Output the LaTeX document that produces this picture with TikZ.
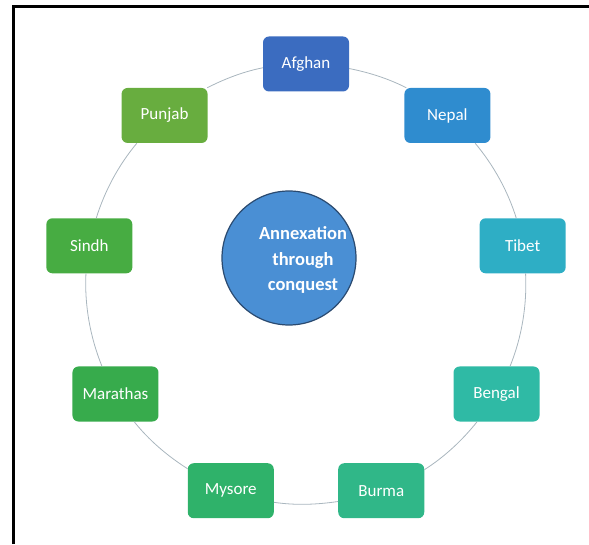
\documentclass[tikz,border=0pt]{standalone}
\usepackage{fontspec}
\setmainfont{Carlito}
\usetikzlibrary{calc}
\definecolor{cAfghan}{HTML}{3B6CC0}
\definecolor{cNepal}{HTML}{2F8CCF}
\definecolor{cTibet}{HTML}{2EAEC5}
\definecolor{cBengal}{HTML}{2FBAA5}
\definecolor{cBurma}{HTML}{30B788}
\definecolor{cMysore}{HTML}{2FB26A}
\definecolor{cMarathas}{HTML}{37AB4C}
\definecolor{cSindh}{HTML}{47AC42}
\definecolor{cPunjab}{HTML}{68AD3F}
\definecolor{cCentre}{HTML}{4A8FD4}
\definecolor{cCentreEdge}{HTML}{2A4A70}
\definecolor{cLink}{HTML}{A9B6BE}
\begin{document}
\begin{tikzpicture}[x=1pt,y=1pt,
  box/.style={rectangle, rounded corners=6pt, minimum width=86pt, minimum height=55pt,
    inner sep=0pt, text=white, font=\fontsize{17}{20}\selectfont},
  link/.style={draw=cLink, line width=0.8pt, looseness=0.86},
  frameline/.style={draw=black, line width=3pt},
  hub/.style={circle, minimum size=134pt, inner sep=0pt, fill=cCentre, draw=cCentreEdge,
    line width=1.2pt},
  hubtext/.style={inner sep=0pt, text=white, align=center,
    font=\fontsize{18.5}{25.5}\selectfont\bfseries}]
\useasboundingbox (0,0) rectangle (589,544);
\coordinate (fbl) at (13,0);
\coordinate (ftl) at (13,537);
\coordinate (ftr) at (589,537);
\draw[frameline] (fbl) -- (ftl) -- (ftr);
\coordinate (ring) at (306,260);
\node[box, fill=cAfghan]   (afghan)   at ($(ring)+(90:220)$)  {Afghan};
\node[box, fill=cNepal]    (nepal)    at ($(ring)+(50:220)$)  {Nepal};
\node[box, fill=cTibet]    (tibet)    at ($(ring)+(10:220)$)  {Tibet};
\node[box, fill=cBengal]   (bengal)   at ($(ring)+(-30:220)$) {Bengal};
\node[box, fill=cBurma]    (burma)    at ($(ring)+(-70:220)$) {Burma};
\node[box, fill=cMysore]   (mysore)   at ($(ring)+(-110:220)$) {Mysore};
\node[box, fill=cMarathas] (marathas) at ($(ring)+(-150:220)$) {Marathas};
\node[box, fill=cSindh]    (sindh)    at ($(ring)+(170:220)$) {Sindh};
\node[box, fill=cPunjab]   (punjab)   at ($(ring)+(130:220)$) {Punjab};
\draw[link] (afghan.185.6)   to[out=191.27, in=26.99]  (punjab.33.5);
\draw[link] (punjab.225)     to[out=230.13, in=72.62]  (sindh.76.3);
\draw[link] (sindh.263.6)    to[out=267.21, in=112.02] (marathas.116.0);
\draw[link] (marathas.304.3) to[out=308.68, in=147.49] (mysore.153.8);
\draw[link] (mysore.345.8)   to[out=351.57, in=188.43] (burma.194.2);
\draw[link] (burma.26.2)     to[out=32.51,  in=231.32] (bengal.235.7);
\draw[link] (bengal.64.0)    to[out=67.98,  in=272.79] (tibet.276.4);
\draw[link] (tibet.103.7)    to[out=107.38, in=309.87] (nepal.315);
\draw[link] (nepal.146.5)    to[out=153.01, in=348.73] (afghan.354.4);
\node[hub] (hub) at (289,286) {};
\node[hubtext] (hubtext) at ($(hub.center)+(14,-2)$) {Annexation\\through\\conquest};
\end{tikzpicture}
\end{document}
